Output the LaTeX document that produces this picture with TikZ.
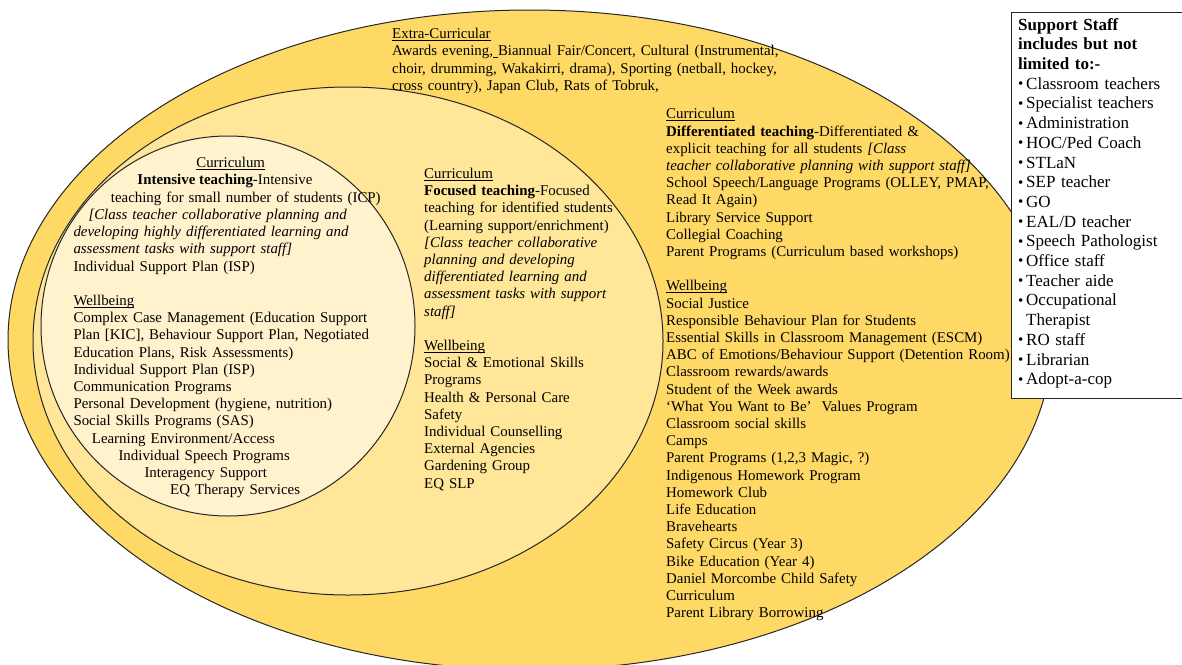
\documentclass[tikz,border=0pt]{standalone}
\usepackage{fontspec}
\setmainfont{Liberation Serif}
\definecolor{outerfill}{HTML}{FFD966}
\definecolor{midfill}{HTML}{FFE699}
\definecolor{innerfill}{HTML}{FFF2CC}
\newcommand\bul{\makebox[8pt][l]{\raisebox{0.6pt}{\fontsize{15}{15}\selectfont\textbullet}}}
\newcommand\ulin[1]{\leavevmode\setbox0\hbox{#1}\rlap{\rule[-1.9pt]{\wd0}{0.8pt}}\box0}
\tikzset{
  ring/.style={draw=black!85, line width=1pt},
  txt/.style={anchor=north west, inner sep=0pt, text width=#1, align=left,
    font=\fontsize{14.9}{17.2}\selectfont},
  ctxt/.style={anchor=base, inner sep=0pt, font=\fontsize{14.9}{17.2}\selectfont},
  stafftxt/.style={anchor=north west, inner sep=0pt, text width=160pt, align=left,
    font=\fontsize{17}{19.7}\selectfont},
}
\begin{document}
\begin{tikzpicture}[x=1pt,y=-1pt]
\useasboundingbox (0,0) rectangle (1182,664);
% ellipses
\path[ring, fill=outerfill] (530,340) ellipse [x radius=522, y radius=330];
\path[ring, fill=midfill] (348,341) ellipse [x radius=315, y radius=254];
\path[ring, fill=innerfill] (228,326) ellipse [x radius=187, y radius=190];

% extra-curricular
\node[txt=420pt] (extra) at (392,26.5) {\strut\ulin{Extra-Curricular}\\
Awards evening,\ulin{\ }Biannual Fair/Concert, Cultural (Instrumental,\\
choir, drumming, Wakakirri, drama), Sporting (netball, hockey,\\
cross country), Japan Club, Rats of Tobruk,};

% right column
\node[txt=345pt] (diff) at (666,106.6) {\strut\ulin{Curriculum}\\
\textbf{Differentiated teaching}-Differentiated \&\\
explicit teaching for all students \textit{[Class}\\
\textit{teacher collaborative planning with support staff]}\\
School Speech/Language Programs (OLLEY, PMAP,\\
Read It Again)\\
Library Service Support\\
Collegial Coaching\\
Parent Programs (Curriculum based workshops)\\
\strut\\
\ulin{Wellbeing}\\
Social Justice\\
Responsible Behaviour Plan for Students\\
Essential Skills in Classroom Management (ESCM)\\
ABC of Emotions/Behaviour Support (Detention Room)\\
Classroom rewards/awards\\
Student of the Week awards\\
‘What You Want to Be’\ \ Values Program\\
Classroom social skills\\
Camps\\
Parent Programs (1,2,3 Magic, ?)\\
Indigenous Homework Program\\
Homework Club\\
Life Education\\
Bravehearts\\
Safety Circus (Year 3)\\
Bike Education (Year 4)\\
Daniel Morcombe Child Safety\\
Curriculum\\
Parent Library Borrowing};

% middle column
\node[txt=230pt] (focused) at (424,166.3) {\strut\ulin{Curriculum}\\
\textbf{Focused teaching}-Focused\\
teaching for identified students\\
(Learning support/enrichment)\\
\textit{[Class teacher collaborative}\\
\textit{planning and developing}\\
\textit{differentiated learning and}\\
\textit{assessment tasks with support}\\
\textit{staff]}\\
\strut\\
\ulin{Wellbeing}\\
Social \& Emotional Skills\\
Programs\\
Health \& Personal Care\\
Safety\\
Individual Counselling\\
External Agencies\\
Gardening Group\\
EQ SLP};

% inner circle
\node[ctxt] (intcur) at (230.7,167.7) {\ulin{Curriculum}};
\node[ctxt] (inthead) at (225,184.9) {\textbf{Intensive teaching}-Intensive};
\node[txt=340pt] (intensive) at (73.3,190.1) {\strut\hspace*{37.4pt}teaching for small number of students (ICP)\\
\hspace*{15pt}\textit{[Class teacher collaborative planning and}\\
\textit{developing highly differentiated learning and}\\
\textit{assessment tasks with support staff]}\\
Individual Support Plan (ISP)\\
\strut\\
\ulin{Wellbeing}\\
Complex Case Management (Education Support\\
Plan [KIC], Behaviour Support Plan, Negotiated\\
Education Plans, Risk Assessments)\\
Individual Support Plan (ISP)\\
Communication Programs\\
Personal Development (hygiene, nutrition)\\
Social Skills Programs (SAS)\\
\hspace*{18.4pt}Learning Environment/Access\\
\hspace*{45pt}Individual Speech Programs\\
\hspace*{71pt}Interagency Support\\
\hspace*{96.7pt}EQ Therapy Services};

% support staff box
\node[draw=black!85, line width=1pt, fill=white, anchor=north west,
  minimum width=190pt, minimum height=386pt, inner sep=0pt] (staffbox) at (1011,12) {};
\node[stafftxt] (staff) at (1018,16.2) {\strut\textbf{Support Staff}\\
\textbf{includes but not}\\
\textbf{limited to:-}\\
\bul Classroom teachers\\
\bul Specialist teachers\\
\bul Administration\\
\bul HOC/Ped Coach\\
\bul STLaN\\
\bul SEP teacher\\
\bul GO\\
\bul EAL/D teacher\\
\bul Speech Pathologist\\
\bul Office staff\\
\bul Teacher aide\\
\bul Occupational\\
\hspace*{8pt}Therapist\\
\bul RO staff\\
\bul Librarian\\
\bul Adopt-a-cop};
\end{tikzpicture}
\end{document}
